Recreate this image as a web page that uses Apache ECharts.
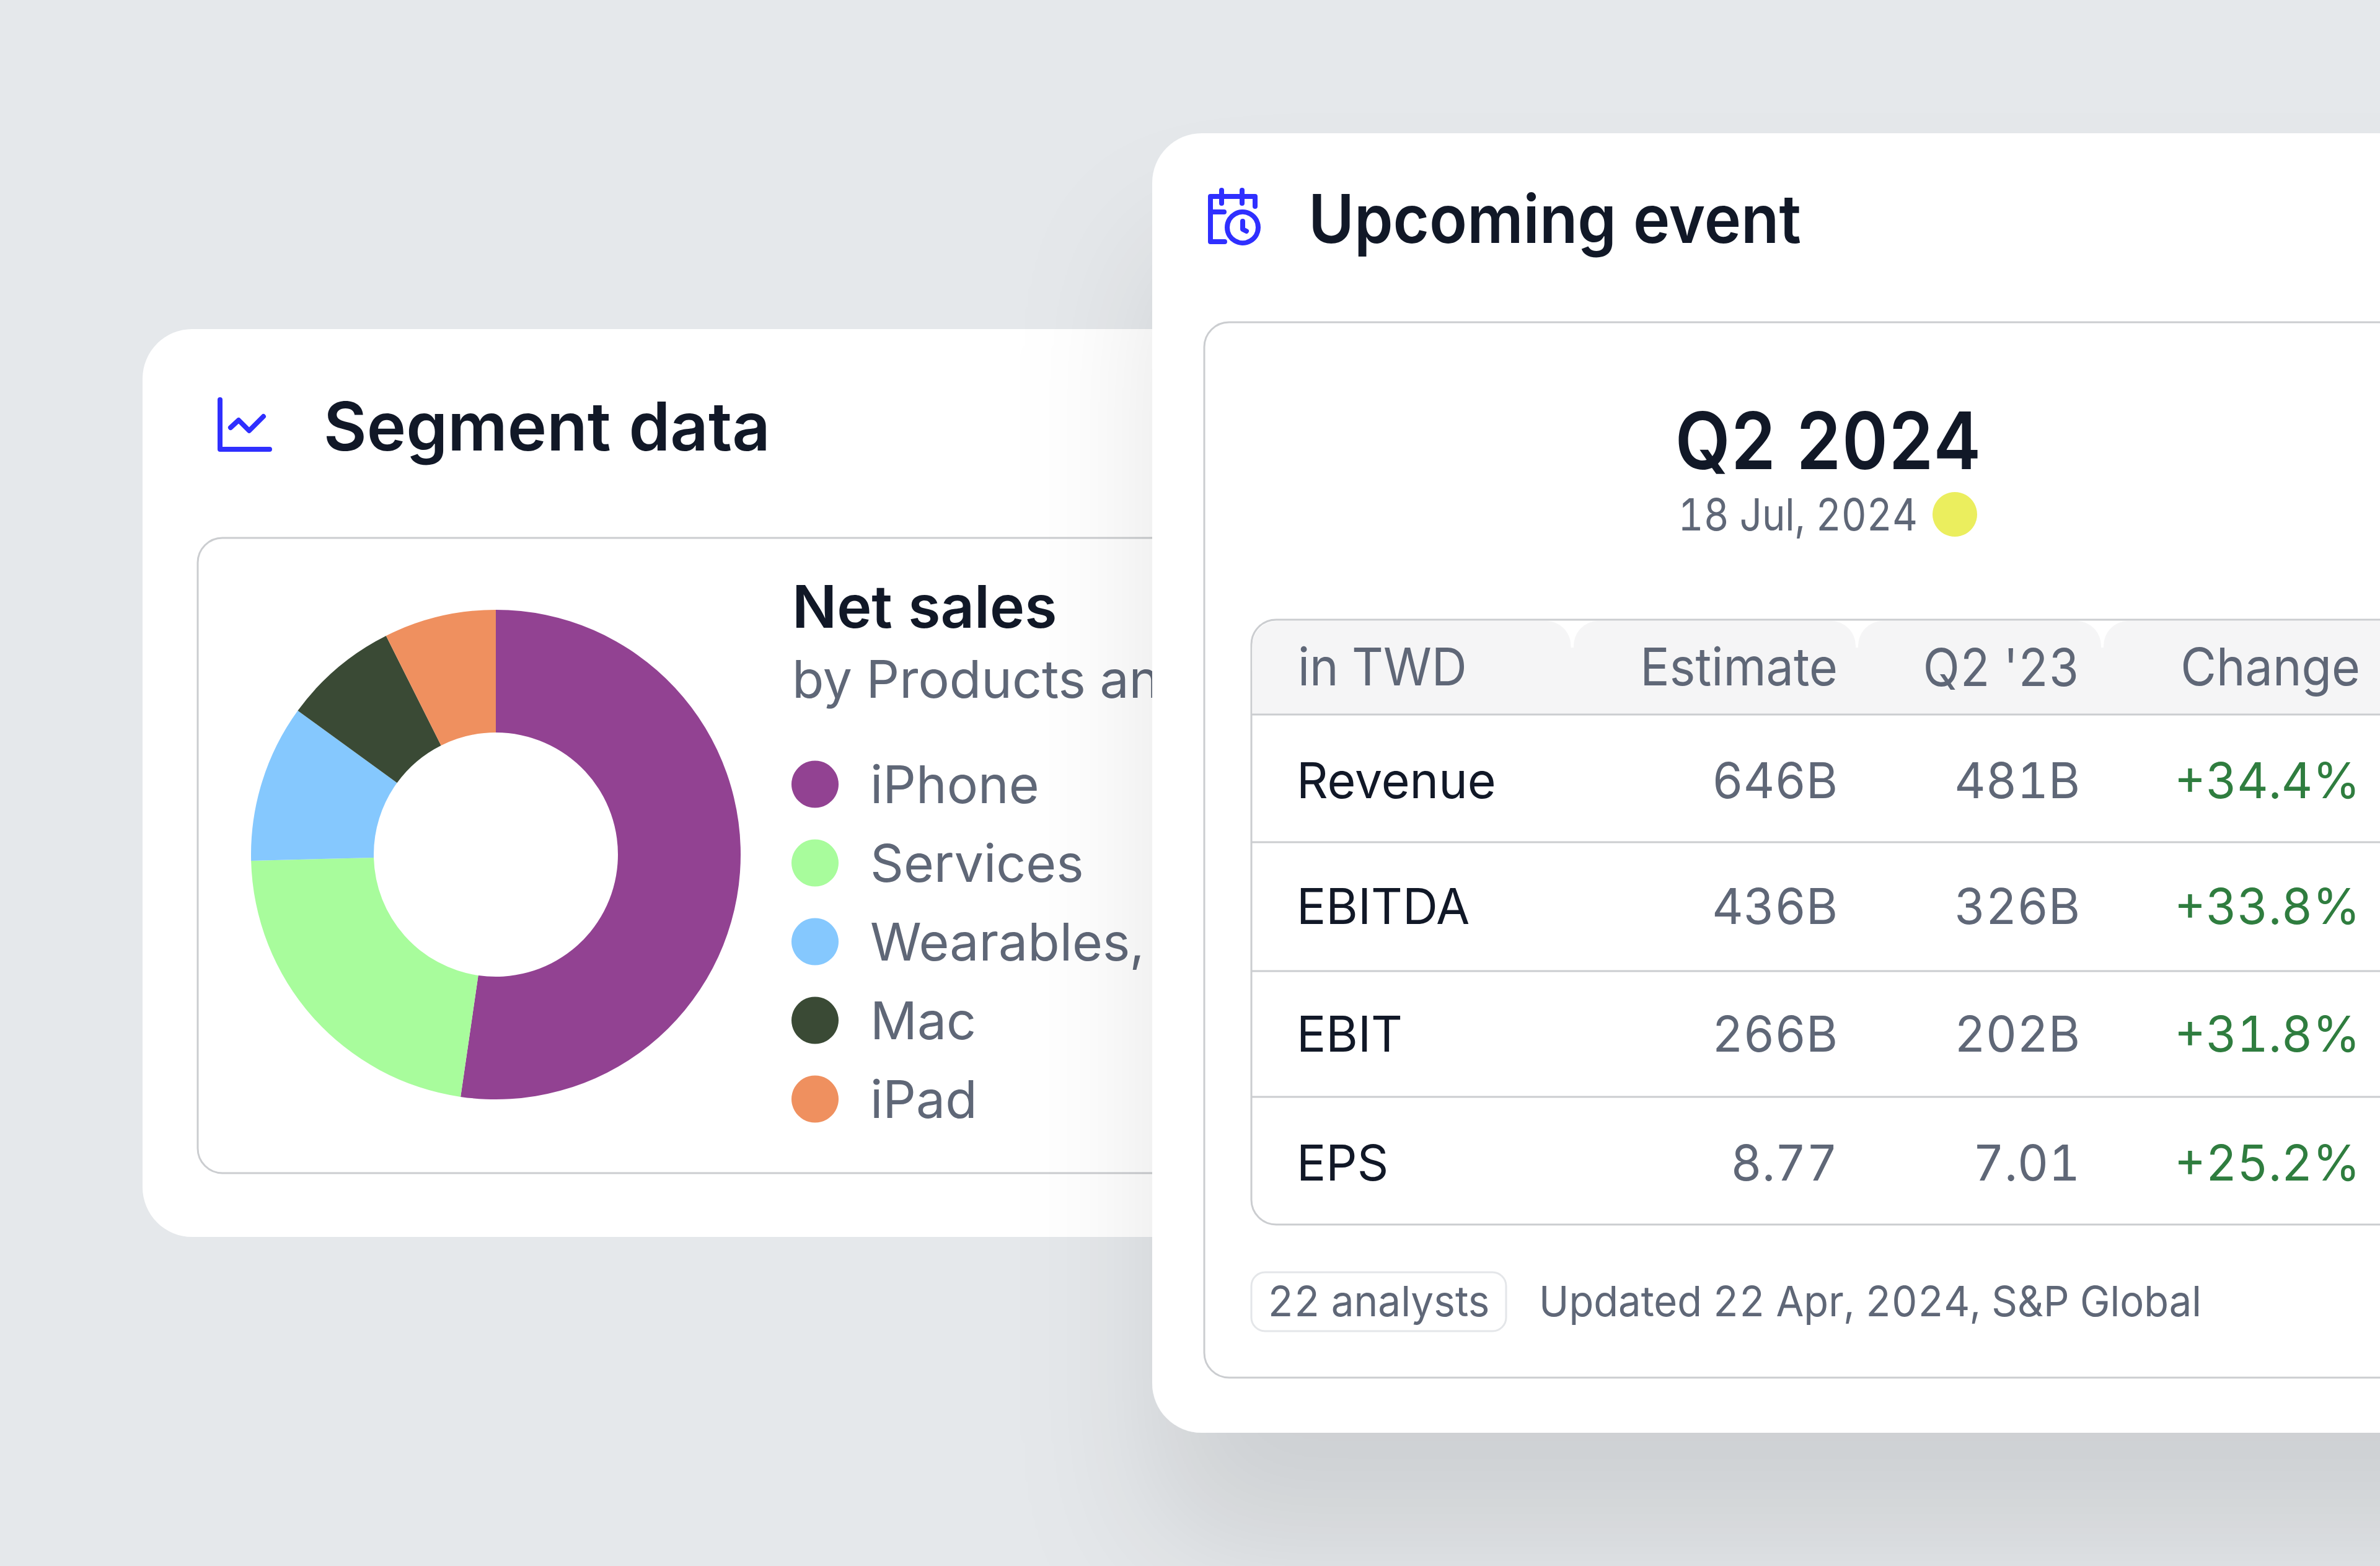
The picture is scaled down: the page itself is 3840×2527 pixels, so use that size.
<!DOCTYPE html>
<html><head><meta charset="utf-8">
<style>html,body{margin:0;padding:0;background:#E5E8EB}#c{width:3840px;height:2527px}
#c svg text{font-variant-numeric:tabular-nums !important}</style>
<script src="https://cdn.jsdelivr.net/npm/echarts@6/dist/echarts.min.js"></script>
</head><body><div id="c"></div>
<script>
const segmentNames = ['iPhone','Services','Wearables, Home and Accessories','Mac','iPad'];
const segmentValues = [52.3,22.3,10.4,7.6,7.4];
const segmentColors = ['#924292','#A8FC9C','#85C8FE','#3A4A35','#EF905F'];
const tableHeader = ['in TWD','Estimate',"Q2 '23",'Change'];
const rowLabels = ['Revenue','EBITDA','EBIT','EPS'];
const estimates = ['646B','436B','266B','8.77'];
const priorYear = ['481B','326B','202B','7.01'];
const changes = ['+34.4%','+33.8%','+31.8%','+25.2%'];

const INK='#111827', GREY='#5F6777', GREEN='#2F7D3F', LINE='#CBCDD0', BLUE='#2F2FFF', FF='Inter, sans-serif';
const CARD_Z=0, FRONT_Z=20;
function txt(text,x,y,size,weight,fill,align,sx,z){
  return {type:'text',z:z===undefined?FRONT_Z+2:z,silent:true,x,y,scaleX:sx||1,
    style:{text,x:0,y:0,font:`${weight} ${size}px ${FF}`,fill,textAlign:align||'left',textVerticalAlign:'middle'}};
}
function stroke(shape,type,w,z){
  return {type,z:z,silent:true,shape,style:{fill:'none',stroke:BLUE,lineWidth:w||8,lineCap:'round',lineJoin:'round'}};
}
const back=[
  {type:'rect',z:CARD_Z,silent:true,shape:{x:230,y:531,width:1800,height:1465,r:80},style:{fill:'#fff'}},
  {type:'rect',z:CARD_Z,silent:true,shape:{x:319,y:868,width:1700,height:1025,r:40},style:{fill:'#fff',stroke:LINE,lineWidth:3}},
  txt('Segment data',522,688,108,600,INK,'left',0.993,1),
  txt('Net sales',1278,978,95,600,INK,'left',1,1),
  txt('by Products and Services',1278,1095,84,400,GREY,'left',1,1),
  stroke({points:[[355,645],[355,725],[435,725]]},'polyline',8,1),
  stroke({points:[[372,690],[385,678],[402,695],[425,672]]},'polyline',8,1)
];
const HEAD='#F5F5F6';
const front=[
  {type:'rect',z:FRONT_Z,silent:true,shape:{x:1859,y:215,width:2300,height:2097,r:80},
    style:{fill:'#fff',shadowBlur:220,shadowOffsetY:180,shadowColor:'rgba(0,0,0,0.10)'}},
  {type:'rect',z:FRONT_Z,silent:true,shape:{x:1943,y:520,width:2300,height:1703,r:40},style:{fill:'#fff',stroke:LINE,lineWidth:3}},
  {type:'rect',z:FRONT_Z,silent:true,shape:{x:2019,y:1000,width:2300,height:976,r:40},style:{fill:'#fff',stroke:LINE,lineWidth:3}},
  {type:'rect',z:FRONT_Z+1,silent:true,shape:{x:2020.5,y:1045,width:1900,height:107},style:{fill:HEAD}},
  {type:'rect',z:FRONT_Z+1,silent:true,shape:{x:2020.5,y:1002,width:514,height:80,r:[40,40,0,0]},style:{fill:HEAD}},
  {type:'rect',z:FRONT_Z+1,silent:true,shape:{x:2539,y:1002,width:455,height:80,r:[40,40,0,0]},style:{fill:HEAD}},
  {type:'rect',z:FRONT_Z+1,silent:true,shape:{x:2998,y:1002,width:392,height:80,r:[40,40,0,0]},style:{fill:HEAD}},
  {type:'rect',z:FRONT_Z+1,silent:true,shape:{x:3394,y:1002,width:700,height:80,r:[40,0,0,0]},style:{fill:HEAD}},
];
[1153,1359,1567,1770].forEach(y=>front.push({type:'line',z:FRONT_Z+1,silent:true,shape:{x1:2019,y1:y,x2:3840,y2:y},style:{stroke:LINE,lineWidth:3}}));
front.push(
  txt('Upcoming event',2111,353,108,600,INK,'left',0.93),
  txt('Q2 2024',2949,710,128,600,INK,'center',0.90),
  txt('18 Jul, 2024',3094,829,72,400,GREY,'right',0.88),
  {type:'circle',z:FRONT_Z+2,silent:true,shape:{cx:3154,cy:830,r:36},style:{fill:'#EBEE5E'}},
  {type:'rect',z:FRONT_Z+1,silent:true,shape:{x:2019,y:2053,width:411,height:95,r:22},style:{fill:'#fff',stroke:'#E4E6E9',lineWidth:3}},
  txt('22 analysts',2045,2099,68,400,GREY,'left',0.965),
  txt('Updated 22 Apr, 2024, S&P Global',2483,2099,68,400,GREY,'left',0.957),
  stroke({points:[[1976,390],[1953,390],[1953,317],[2025,317],[2025,333]]},'polyline',8,FRONT_Z+2),
  stroke({x1:1971,y1:307,x2:1971,y2:328},'line',8,FRONT_Z+2),
  stroke({x1:2004,y1:307,x2:2004,y2:328},'line',8,FRONT_Z+2),
  stroke({x1:1953,y1:342,x2:1975,y2:342},'line',8,FRONT_Z+2),
  stroke({cx:2005,cy:367,r:25},'circle',8,FRONT_Z+2),
  stroke({points:[[2005,357],[2005,370],[2011,373]]},'polyline',8,FRONT_Z+2)
);
const colX=[2094,2965,3356,3808];
const headScale=[0.94,0.94,0.92,0.94];
tableHeader.forEach((h,i)=>front.push(txt(h,colX[i],1076,84,400,GREY,i?'right':'left',headScale[i])));
const rowY=[1259,1462,1668,1876];
rowLabels.forEach((r,i)=>{
  front.push(txt(r,colX[0]-2,rowY[i],80,400,INK,'left',0.985));
  front.push(txt(estimates[i],colX[1],rowY[i],80,400,GREY,'right',0.975));
  front.push(txt(priorYear[i],colX[2],rowY[i],80,400,GREY,'right',0.975));
  front.push(txt(changes[i],colX[3],rowY[i],80,400,GREEN,'right',0.975));
});

const chart=echarts.init(document.getElementById('c'),null,{width:3840,height:2527,renderer:'svg'});
chart.setOption({
  animation:false,
  backgroundColor:'#E5E8EB',
  tooltip:{show:false},
  graphic:{elements:back.concat(front)},
  legend:{
    orient:'vertical',left:1272,top:1218.5,icon:'circle',itemWidth:168,itemHeight:76,itemGap:43,
    selectedMode:false,data:segmentNames,
    textStyle:{fontFamily:FF,fontSize:84,color:GREY}
  },
  series:[{
    type:'pie',center:[800,1379],radius:[197,395],startAngle:90,clockwise:true,silent:true,
    label:{show:false},labelLine:{show:false},emphasis:{disabled:true},
    data:segmentNames.map((n,i)=>({name:n,value:segmentValues[i],itemStyle:{color:segmentColors[i]}}))
  }]
});
</script></body></html>
